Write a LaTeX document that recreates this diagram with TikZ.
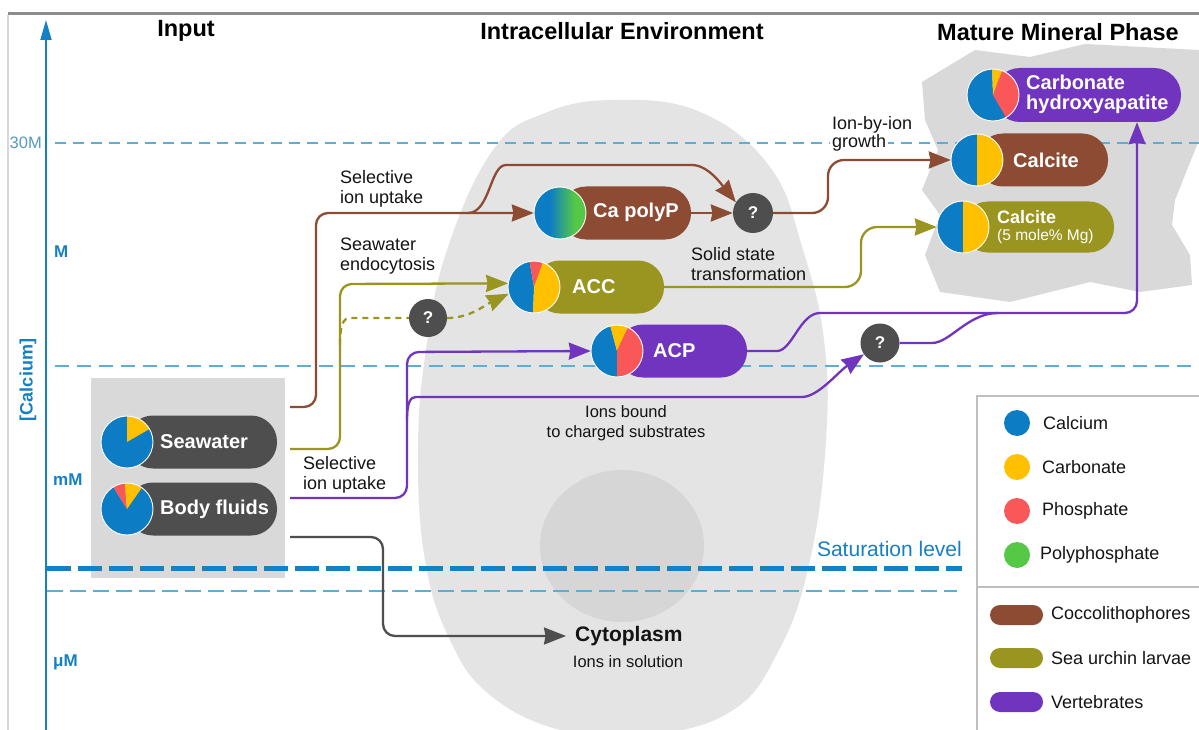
\documentclass[tikz,border=0pt]{standalone}
\usepackage{fontspec}
\setmainfont{Liberation Sans}
\usetikzlibrary{arrows.meta}

\definecolor{caBlue}{RGB}{12,125,196}
\definecolor{carbYel}{RGB}{255,192,0}
\definecolor{phosRed}{RGB}{250,88,88}
\definecolor{polyGrn}{RGB}{85,200,70}
\definecolor{coccoC}{RGB}{141,75,52}
\definecolor{urchinC}{RGB}{154,149,32}
\definecolor{vertC}{RGB}{113,52,190}
\definecolor{pillGray}{RGB}{78,78,78}
\definecolor{qGray}{RGB}{78,78,78}
\definecolor{cellGray}{RGB}{228,228,228}
\definecolor{nucGray}{RGB}{214,214,214}
\definecolor{boxGray}{RGB}{217,217,217}
\definecolor{axisBlue}{RGB}{22,128,196}
\definecolor{gridBlue}{RGB}{95,172,212}
\definecolor{txtC}{RGB}{20,20,20}

\pgfdeclarehorizontalshading{bluegreen}{100bp}{color(0bp)=(caBlue); color(40bp)=(caBlue); color(64bp)=(polyGrn); color(100bp)=(polyGrn)}

% pie wedge: centre x, centre y, radius, from angle, to angle (counterclockwise), colour
\newcommand\mywedge[6]{%
  \fill[#6] (#1,#2) -- ++({-(#4)}:#3) arc[start angle={-(#4)}, end angle={-(#5)}, radius=#3] -- cycle;}
\newcommand\myrim[1]{\draw[white, line width=0.9pt] (#1.center) circle[radius=26];}

\tikzset{
  lbl/.style={font=\fontsize{18}{19.5}\selectfont, text=txtC, align=left, inner sep=0pt},
  head/.style={font=\fontsize{23.5}{26}\selectfont\bfseries, text=black, inner sep=0pt},
  axlbl/.style={font=\fontsize{17}{19}\selectfont\bfseries, text=axisBlue, inner sep=0pt},
  pilltxt/.style={font=\fontsize{20}{20}\selectfont\bfseries, text=white, inner sep=0pt, anchor=west, align=left},
  pill/.style={rounded corners=26pt, inner sep=0pt, minimum height=53pt},
  pienode/.style={circle, minimum size=52pt, inner sep=0pt},
  qnode/.style={circle, fill=qGray, inner sep=0pt, text=white, font=\fontsize{17}{17}\selectfont\bfseries},
  conn/.style={line width=2.3pt, rounded corners=12pt},
  tip/.style={-{Stealth[length=22pt,width=17pt,inset=1.5pt]}},
  lgdot/.style={circle, minimum size=26pt, inner sep=0pt},
  lgpill/.style={rounded corners=10pt, minimum width=53pt, minimum height=20pt, inner sep=0pt},
}

\begin{document}
\begin{tikzpicture}[x=1pt,y=-1pt]
\useasboundingbox (0,0) rectangle (1199,730);
\clip (0,0) rectangle (1199,730);
\fill[white] (0,0) rectangle (1199,730);

% page frame
\draw[black!45, line width=3pt] (8,14) -- (1199,14);
\draw[black!15, line width=1.2pt] (8,15) -- (8,730);

% the cell and its nucleus
\fill[cellGray] plot[smooth cycle, tension=0.7] coordinates {
  (615,100) (700,112) (770,167) (803,250) (824,340) (826,440) (810,560)
  (779,650) (730,712) (640,736) (560,730) (490,695) (450,640) (425,560)
  (418,450) (426,350) (447,250) (493,150) (545,113)};
\fill[nucGray] (622,546) ellipse [x radius=82, y radius=76];

% mineral phase backdrop
\fill[boxGray] (922,82) -- (975,50) -- (1030,57) -- (1085,44) -- (1199,50)
  -- (1199,140) -- (1175,200) -- (1172,225) -- (1190,255) -- (1192,285)
  -- (1140,292) -- (1090,282) -- (1010,302) -- (940,292) -- (925,255)
  -- (940,215) -- (922,190) -- (938,150) -- (925,120) -- cycle;

% input backdrop
\node[fill=boxGray, minimum width=194pt, minimum height=200pt, inner sep=0pt] (inbox) at (188,478) {};

% concentration levels
\draw[gridBlue, line width=1.1pt, dash pattern=on 11pt off 7pt] (55,143) -- (1199,143);
\draw[gridBlue, line width=1.1pt, dash pattern=on 14pt off 8pt] (55,366) -- (1199,366);
\draw[axisBlue, line width=5pt, dash pattern=on 24pt off 7pt] (47,568) -- (962,568);
\draw[gridBlue, line width=1.1pt, dash pattern=on 16pt off 7pt] (47,591) -- (957,591);

% calcium axis
\draw[axisBlue, line width=2pt, -{Triangle[length=20pt,width=11pt]}] (46,730) -- (46,20);
\node[font=\fontsize{16.5}{18}\selectfont, text=gridBlue!90!black, inner sep=0pt, anchor=east] (l30) at (42,143) {30M};
\node[axlbl, anchor=west] (lM) at (54,252) {M};
\node[axlbl, anchor=west] (lmM) at (53,480) {mM};
\node[axlbl, anchor=west] (luM) at (53,662) {μM};
\node[font=\fontsize{18}{20}\selectfont\bfseries, text=axisBlue, inner sep=0pt, rotate=90] (lCa) at (28,380) {[Calcium]};

% column headings
\node[head] (hIn) at (186,31) {Input};
\node[head] (hCell) at (622,31) {Intracellular Environment};
\node[head] (hMin) at (1058,32) {Mature Mineral Phase};

% ---------- input pills ----------
\node[pill, fill=pillGray, minimum width=150pt] (seaPill) at (202,442) {};
\node[pienode] (seaPie) at (127,442) {};
\mywedge{127}{442}{26}{90}{390}{caBlue}
\mywedge{127}{442}{26}{30}{90}{carbYel}
\myrim{seaPie}
\node[pilltxt] (seaTxt) at (160,442) {Seawater};

\node[pill, fill=pillGray, minimum width=150pt] (bodyPill) at (202,509) {};
\node[pienode] (bodyPie) at (127,509) {};
\mywedge{127}{509}{26}{122}{415}{caBlue}
\mywedge{127}{509}{26}{95}{122}{phosRed}
\mywedge{127}{509}{26}{55}{95}{carbYel}
\myrim{bodyPie}
\node[pilltxt] (bodyTxt) at (160,509) {Body fluids};

% ---------- intracellular pills ----------
\node[pill, fill=coccoC, minimum width=131pt] (polyPill) at (625.5,213) {};
\node[pienode] (polyPie) at (560,213) {};
\shade[shading=bluegreen] (560,213) circle[radius=26];
\myrim{polyPie}
\node[pilltxt] (polyTxt) at (593,212) {Ca polyP};

\node[pill, fill=urchinC, minimum width=130pt] (accPill) at (599,287) {};
\node[pienode] (accPie) at (534,287) {};
\mywedge{534}{287}{26}{100}{268}{caBlue}
\mywedge{534}{287}{26}{70}{100}{phosRed}
\mywedge{534}{287}{26}{-92}{70}{carbYel}
\myrim{accPie}
\node[pilltxt] (accTxt) at (572,287) {ACC};

\node[pill, fill=vertC, minimum width=130pt] (acpPill) at (682,351) {};
\node[pienode] (acpPie) at (617,351) {};
\mywedge{617}{351}{26}{105}{270}{caBlue}
\mywedge{617}{351}{26}{65}{105}{carbYel}
\mywedge{617}{351}{26}{-90}{65}{phosRed}
\myrim{acpPie}
\node[pilltxt] (acpTxt) at (653,351) {ACP};

% ---------- mineral pills ----------
\node[pill, fill=vertC, minimum width=188pt, minimum height=54pt, rounded corners=27pt] (chaPill) at (1087,95) {};
\node[pienode] (chaPie) at (993,95) {};
\mywedge{993}{95}{26}{92}{300}{caBlue}
\mywedge{993}{95}{26}{-60}{70}{phosRed}
\mywedge{993}{95}{26}{70}{92}{carbYel}
\myrim{chaPie}
\node[pilltxt, font=\fontsize{20}{20}\selectfont\bfseries] (chaTxt) at (1026,94) {Carbonate\\hydroxyapatite};

\node[pill, fill=coccoC, minimum width=131pt] (calcPill) at (1042.5,160) {};
\node[pienode] (calcPie) at (977,160) {};
\mywedge{977}{160}{26}{90}{270}{caBlue}
\mywedge{977}{160}{26}{-90}{90}{carbYel}
\myrim{calcPie}
\node[pilltxt] (calcTxt) at (1013,160) {Calcite};

\node[pill, fill=urchinC, minimum width=151pt, minimum height=51pt, rounded corners=25pt] (mgPill) at (1038.5,227) {};
\node[pienode] (mgPie) at (963,227) {};
\mywedge{963}{227}{26}{90}{270}{caBlue}
\mywedge{963}{227}{26}{-90}{90}{carbYel}
\myrim{mgPie}
\node[pilltxt, font=\fontsize{18}{18}\selectfont\bfseries] (mgTxt) at (997,227) {Calcite\\[-1pt]{\fontsize{15.5}{16}\selectfont\mdseries (5 mole\% Mg)}};

% ---------- unknown intermediates ----------
\node[qnode, minimum size=40pt] (q1) at (753,213) {?};
\node[qnode, minimum size=38pt] (q2) at (428,318) {?};
\node[qnode, minimum size=39pt] (q3) at (880,343) {?};

% ---------- cytoplasm ----------
\node[font=\fontsize{21}{22}\selectfont\bfseries, text=txtC, anchor=west, inner ysep=0pt, inner xsep=9pt] (cyto) at (566,636) {Cytoplasm};
\node[font=\fontsize{16.5}{18}\selectfont, text=txtC, inner sep=0pt] (cytoSub) at (628,662) {Ions in solution};

% ---------- pathway labels ----------
\node[lbl, anchor=west] (tSel1) at (340,189) {Selective\\ion uptake};
\node[lbl, anchor=west] (tEndo) at (340,256) {Seawater\\endocytosis};
\node[lbl, anchor=west] (tSolid) at (691,264) {Solid state\\transformation};
\node[lbl, anchor=west] (tIon) at (832,125) {Ion-by-ion};
\node[lbl, anchor=west, fill=white, inner xsep=2pt, inner ysep=1pt] (tGrowth) at (830,143) {growth};
\node[lbl, anchor=west] (tSel2) at (303,475) {Selective\\ion uptake};
\node[font=\fontsize{16.5}{20}\selectfont, text=txtC, align=center, inner sep=0pt] (tBound) at (626,423) {Ions bound\\to charged substrates};
\node[font=\fontsize{21}{22}\selectfont, text=axisBlue, anchor=east, inner sep=0pt] (tSat) at (962,549) {Saturation level};

% ---------- coccolithophore route ----------
\coordinate (brS) at (290,407);
\coordinate (brFork) at (468,213);
\draw[conn, coccoC, tip] (brS) -- (316,407) -- (316,213) -- (polyPie.west);
\draw[conn, coccoC, tip] (brFork) .. controls (490,213) and (490,165) .. (518,165) -- (680,165) .. controls (708,165) and (722,185) .. (q1.148);
\draw[conn, coccoC, tip] (polyPill.east) -- (q1.west);
\draw[conn, coccoC, rounded corners=16pt, tip] (q1.east) -- (828,213) -- (828,160) -- (calcPie.west);

% ---------- sea urchin route ----------
\coordinate (olS) at (290,449);
\coordinate (olFork) at (340,345);
\draw[conn, urchinC, tip] (olS) -- (340,449) -- (340,284) -- (accPie.172);
\draw[conn, urchinC, rounded corners=16pt, tip] (accPill.east) -- (861,287) -- (861,227) -- (mgPie.west);
\draw[conn, urchinC, dash pattern=on 6pt off 5pt] (olFork) .. controls (340,323) and (344,318) .. (362,318) -- (q2.west);
\draw[conn, urchinC, dash pattern=on 6pt off 5pt, tip] (q2.east) .. controls (470,318) and (485,305) .. (accPie.195);

% ---------- vertebrate route ----------
\coordinate (puS) at (290,498);
\coordinate (puFork) at (407,420);
\coordinate (puMerge) at (998,313);
\draw[conn, vertC, tip] (puS) -- (407,498) -- (407,352) -- (acpPie.west);
\draw[conn, vertC, tip] (puFork) .. controls (407,401) and (411,397) .. (428,397) -- (790,397) .. controls (818,397) and (838,372) .. (q3.215);
\draw[conn, vertC, tip] (acpPill.east) -- (765,351) .. controls (792,351) and (800,313) .. (832,313) -- (1137,313) -- ([xshift=50pt]chaPill.south);
\draw[conn, vertC] (q3.east) -- (920,343) .. controls (950,343) and (968,313) .. (puMerge);

% ---------- passive route to the cytoplasm ----------
\coordinate (gyS) at (290,537);
\draw[conn, pillGray, tip] (gyS) -- (383,537) -- (383,636) -- (cyto.west);

% ---------- legend ----------
\draw[black!25, line width=1.5pt] (977,740) -- (977,396) -- (1210,396);
\draw[black!25, line width=1.5pt] (977,587) -- (1210,587);
\node[lgdot, fill=caBlue] (lgCa) at (1017,423) {};
\node[lbl, anchor=west] (lgCaT) at (1043,423) {Calcium};
\node[lgdot, fill=carbYel] (lgCb) at (1017,467) {};
\node[lbl, anchor=west] (lgCbT) at (1042,467) {Carbonate};
\node[lgdot, fill=phosRed] (lgPh) at (1017,511) {};
\node[lbl, anchor=west] (lgPhT) at (1042,511) {Phosphate};
\node[lgdot, fill=polyGrn] (lgPp) at (1017,555) {};
\node[lbl, anchor=west] (lgPpT) at (1040,555) {Polyphosphate};
\node[lgpill, fill=coccoC] (lgCo) at (1016.5,615) {};
\node[lbl, anchor=west] (lgCoT) at (1051,615) {Coccolithophores};
\node[lgpill, fill=urchinC] (lgSu) at (1016.5,658) {};
\node[lbl, anchor=west] (lgSuT) at (1051,658) {Sea urchin larvae};
\node[lgpill, fill=vertC] (lgVe) at (1016.5,702) {};
\node[lbl, anchor=west] (lgVeT) at (1051,702) {Vertebrates};
\end{tikzpicture}
\end{document}
